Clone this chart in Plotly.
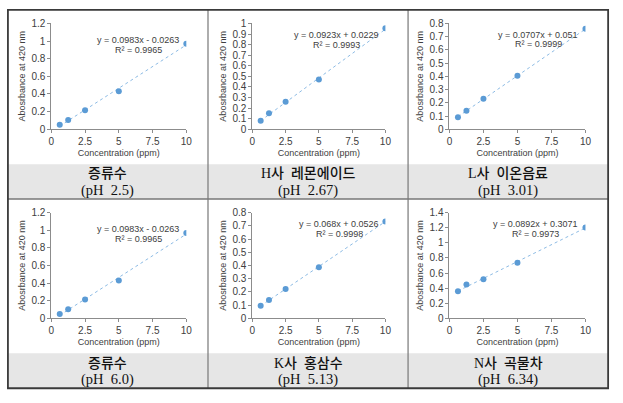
import plotly.graph_objects as go

# ---------------- data ----------------
conc = [0.625, 1.25, 2.5, 5, 10]
abs_p1 = [0.05, 0.105, 0.215, 0.43, 0.97]
abs_p2 = [0.08, 0.15, 0.26, 0.47, 0.955]
abs_p3 = [0.09, 0.14, 0.23, 0.405, 0.76]
abs_p4 = [0.05, 0.105, 0.215, 0.43, 0.97]
abs_p5 = [0.095, 0.14, 0.222, 0.387, 0.734]
abs_p6 = [0.358, 0.448, 0.517, 0.737, 1.203]
series = [abs_p1, abs_p2, abs_p3, abs_p4, abs_p5, abs_p6]

slopes = [0.0983, 0.0923, 0.0707, 0.0983, 0.068, 0.0892]
intercepts = [-0.0263, 0.0229, 0.051, -0.0263, 0.0526, 0.3071]
eq_texts = ["y = 0.0983x - 0.0263", "y = 0.0923x + 0.0229", "y = 0.0707x + 0.051",
            "y = 0.0983x - 0.0263", "y = 0.068x + 0.0526", "y = 0.0892x + 0.3071"]
r2_texts = ["R² = 0.9965", "R² = 0.9993", "R² = 0.9999",
            "R² = 0.9965", "R² = 0.9998", "R² = 0.9973"]
y_max = [1.2, 1.0, 0.8, 1.2, 0.8, 1.4]
y_step = [0.2, 0.1, 0.1, 0.2, 0.1, 0.2]
x_ticks = [0, 2.5, 5, 7.5, 10]

names = ["증류수", "H사  레몬에이드", "L사  이온음료", "증류수", "K사  홍삼수", "N사  곡물차"]
ph_labels = ["(pH  2.5)", "(pH  2.67)", "(pH  3.01)", "(pH  6.0)", "(pH  5.13)", "(pH  6.34)"]

x_title = "Concentration (ppm)"
y_title = "Abosrbance at 420 nm"

# ---------------- layout helpers ----------------
W, H = 623, 403
def px(x):
    return x / W
def py(y):
    return 1 - y / H

col_x = [(49, 186), (253, 388), (453, 591)]
row_y = [(18, 127), (213, 322)]
eq_cx = [137, 338, 543, 137, 341, 540]
eq_y = [(35, 45), (30, 40), (30, 39), (230, 240), (225, 235), (225, 235)]
cell_cx = [106.5, 309.5, 512.5]
band_rows = [(163, 199), (358, 394)]

BLUE = "#5b9bd5"
TXT = "#404040"
AX = "#8c8c8c"
FONT = "Liberation Sans, Arial, sans-serif"

fig = go.Figure()
layout_axes = {}
annotations = []

for i in range(6):
    r, c = divmod(i, 3)
    n = i + 1
    xa = "x" if n == 1 else f"x{n}"
    ya = "y" if n == 1 else f"y{n}"
    xs = [min(conc), max(conc)]
    ys = [slopes[i] * v + intercepts[i] for v in xs]
    fig.add_trace(go.Scatter(x=xs, y=ys, mode="lines", xaxis=xa, yaxis=ya,
                             line=dict(color="#8dbbe4", width=1, dash="dot"),
                             showlegend=False, hoverinfo="skip"))
    fig.add_trace(go.Scatter(x=conc, y=series[i], mode="markers", xaxis=xa, yaxis=ya,
                             marker=dict(color=BLUE, size=6),
                             showlegend=False))
    xl, xr = col_x[c]
    yt, yb = row_y[r]
    xkey = "xaxis" if n == 1 else f"xaxis{n}"
    ykey = "yaxis" if n == 1 else f"yaxis{n}"
    layout_axes[xkey] = dict(domain=[px(xl), px(xr)], anchor=ya, range=[0, 10],
                             tickvals=x_ticks, ticktext=[f"{t:g}" for t in x_ticks],
                             showline=True, linecolor=AX, linewidth=1,
                             ticks="outside", ticklen=3, tickcolor=AX,
                             showgrid=False, zeroline=False,
                             tickfont=dict(size=10, color=TXT, family=FONT),
                             title=dict(text=x_title, standoff=3,
                                        font=dict(size=9, color=TXT, family=FONT)))
    layout_axes[ykey] = dict(domain=[py(yb), py(yt)], anchor=xa, range=[0, y_max[i]],
                             dtick=y_step[i], tick0=0,
                             showline=True, linecolor=AX, linewidth=1,
                             ticks="outside", ticklen=3, tickcolor=AX,
                             showgrid=False, zeroline=False,
                             tickfont=dict(size=10, color=TXT, family=FONT),
                             title=dict(text=y_title, standoff=4,
                                        font=dict(size=9, color=TXT, family=FONT)))
    annotations.append(dict(text=eq_texts[i], x=px(eq_cx[i]), y=py(eq_y[i][0]),
                            xref="paper", yref="paper", showarrow=False,
                            xanchor="center", yanchor="middle",
                            font=dict(size=9, color=TXT, family=FONT)))
    annotations.append(dict(text=r2_texts[i], x=px(eq_cx[i]), y=py(eq_y[i][1]),
                            xref="paper", yref="paper", showarrow=False,
                            xanchor="center", yanchor="middle",
                            font=dict(size=9, color=TXT, family=FONT)))
    bt, bb = band_rows[r]
    annotations.append(dict(text=names[i], x=px(cell_cx[c]), y=py(bt + 10),
                            xref="paper", yref="paper", showarrow=False,
                            xanchor="center", yanchor="middle",
                            font=dict(size=14, color="#111111", weight=500,
                                      family="Liberation Serif, Noto Sans CJK KR, serif")))
    annotations.append(dict(text=ph_labels[i], x=px(cell_cx[c]), y=py(bt + 27),
                            xref="paper", yref="paper", showarrow=False,
                            xanchor="center", yanchor="middle",
                            font=dict(size=14.5, color="#111111",
                                      family="Liberation Serif, serif")))

shapes = []
for bt, bb in band_rows:
    shapes.append(dict(type="rect", xref="paper", yref="paper",
                       x0=px(5), x1=px(614), y0=py(bb), y1=py(bt),
                       fillcolor="#e6e6e6", line=dict(width=0), layer="below"))
for xv in (208, 411):
    shapes.append(dict(type="line", xref="paper", yref="paper",
                       x0=px(xv), x1=px(xv), y0=py(394), y1=py(4),
                       line=dict(color="#777777", width=1.2)))
shapes.append(dict(type="line", xref="paper", yref="paper",
                   x0=px(5), x1=px(614), y0=py(199), y1=py(199),
                   line=dict(color="#777777", width=1.5)))
shapes.append(dict(type="rect", xref="paper", yref="paper",
                   x0=px(5), x1=px(614), y0=py(394), y1=py(4),
                   line=dict(color="#3a3a3a", width=1.8)))

fig.update_layout(width=W, height=H, margin=dict(l=0, r=0, t=0, b=0),
                  paper_bgcolor="white", plot_bgcolor="white",
                  annotations=annotations, shapes=shapes, **layout_axes)

fig.write_html("out.html", config={"displayModeBar": False},
               post_script="document.body.style.margin='0';document.body.style.padding='0';")
